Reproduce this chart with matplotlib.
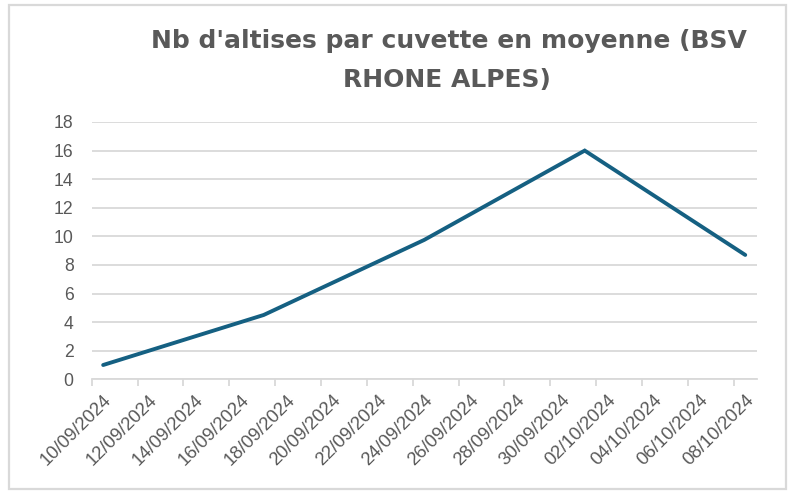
import numpy as np
import matplotlib
matplotlib.use('Agg')
import matplotlib.pyplot as plt
from matplotlib.patches import Rectangle
import datetime as dt

# data
dates = ['10/09/2024', '17/09/2024', '24/09/2024', '01/10/2024', '08/10/2024']
values = [1.0, 4.5, 9.75, 16.0, 8.7]
titleLines = ["Nb d'altises par cuvette en moyenne (BSV", "RHONE ALPES)"]
yticks = [0, 2, 4, 6, 8, 10, 12, 14, 16, 18]

textColor = '#595959'
gridColor = '#d9d9d9'
lineColor = '#156082'

plt.rcParams['font.family'] = ['Liberation Sans', 'DejaVu Sans']

x = [dt.datetime.strptime(d, '%d/%m/%Y') for d in dates]
start = x[0]
end = x[-1]
labelDays = [start + dt.timedelta(days=k) for k in range(0, (end - start).days + 1, 2)]
half = dt.timedelta(hours=12)

fig = plt.figure(figsize=(7.92, 4.93), dpi=100)
W, H = 792, 493
ax = fig.add_axes([91.7 / W, 1 - 379.3 / H, (756.7 - 91.7) / W, (379.3 - 122) / H])

ax.plot(x, values, color=lineColor, linewidth=2.8, solid_capstyle='round', solid_joinstyle='miter', zorder=3)

ax.set_xlim(start - half, end + half)
ax.set_ylim(0, 18)
ax.set_yticks(yticks)
ax.yaxis.grid(True, color=gridColor, linewidth=1.3)
ax.set_axisbelow(True)

# labels centred on days, tick marks on boundaries between slots
ax.set_xticks(labelDays)
ax.set_xticklabels([d.strftime('%d/%m/%Y') for d in labelDays], rotation=45, ha='right', va='top',
                   rotation_mode='anchor', color=textColor, fontsize=13.3)
ax.set_xticks([d - half for d in labelDays], minor=True)
ax.tick_params(axis='x', which='major', length=0, pad=9)
ax.tick_params(axis='x', which='minor', length=5, color=gridColor, width=1.3)
ax.tick_params(axis='y', length=0, pad=13, labelcolor=textColor, labelsize=12.7)

for s in ['top', 'right', 'left']:
    ax.spines[s].set_visible(False)
ax.spines['bottom'].set_color(gridColor)
ax.spines['bottom'].set_linewidth(1.3)

titleFont = ['DejaVu Sans']
fig.text(449 / W, 1 - 48.3 / H, titleLines[0], ha='center', va='baseline', fontsize=18,
         fontweight='bold', color=textColor, family=titleFont)
fig.text(447 / W, 1 - 86.7 / H, titleLines[1], ha='center', va='baseline', fontsize=18,
         fontweight='bold', color=textColor, family=titleFont)

fig.patches.append(Rectangle((9 / W, 1 - 489 / H), 777 / W, 484 / H, transform=fig.transFigure,
                             fill=False, edgecolor=gridColor, linewidth=1.6))

fig.savefig('out.png', dpi=100)
